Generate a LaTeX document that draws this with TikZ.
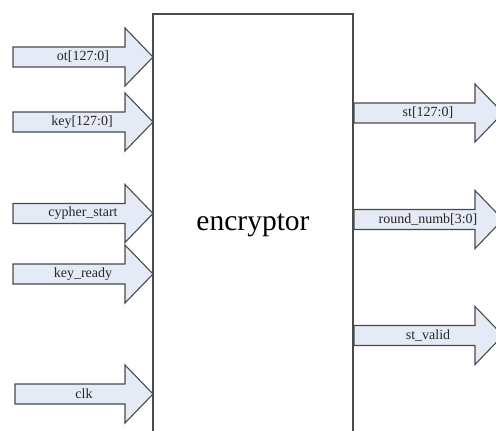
\documentclass[tikz,border=0pt]{standalone}
\usepackage{fontspec}
\setmainfont{Liberation Serif}
\definecolor{arrowfill}{HTML}{E4EAF6}
\definecolor{edgegray}{HTML}{4A4A4A}
\tikzset{
  sig/.style={draw=edgegray, fill=arrowfill, line width=1.1pt, line join=miter},
  lbl/.style={font=\fontsize{14}{16}\selectfont, inner sep=0pt, text=black!85},
  block/.style={draw=edgegray, line width=1.3pt, fill=white, minimum width=200pt,
    minimum height=422pt, inner sep=0pt, font=\fontsize{29.5}{32}\selectfont}
}
\newcommand\sigarrow[4]{%
  \draw[sig] (#1,#4-10) -- (#2,#4-10) -- (#2,#4-29) -- (#3,#4) -- (#2,#4+29)
    -- (#2,#4+10) -- (#1,#4+10) -- cycle;}
\begin{document}
\begin{tikzpicture}[x=1pt,y=-1pt]
\useasboundingbox (0,0) rectangle (496,431);
\clip (0,0) rectangle (496,431);
\fill[white] (0,0) rectangle (496,431);
\node[block] (enc) at (253,225) {encryptor};
% inputs
\sigarrow{13}{125}{153}{57}
\sigarrow{13}{125}{153}{122}
\sigarrow{13}{125}{153}{213.5}
\sigarrow{13}{125}{153}{274}
\sigarrow{15}{125}{153}{394}
\node[lbl] (ot) at (83,57) {ot[127:0]};
\node[lbl] (key) at (82,122) {key[127:0]};
\node[lbl] (cs) at (83,213.5) {cypher\_start};
\node[lbl] (kr) at (83,274) {key\_ready};
\node[lbl] (clk) at (84,394) {clk};
% outputs
\sigarrow{354}{475}{503}{113}
\sigarrow{354}{475}{503}{219.5}
\sigarrow{354}{475}{503}{335.5}
\node[lbl] (st) at (428,113) {st[127:0]};
\node[lbl] (rn) at (428,219.5) {round\_numb[3:0]};
\node[lbl] (sv) at (428,335.5) {st\_valid};
\end{tikzpicture}
\end{document}
